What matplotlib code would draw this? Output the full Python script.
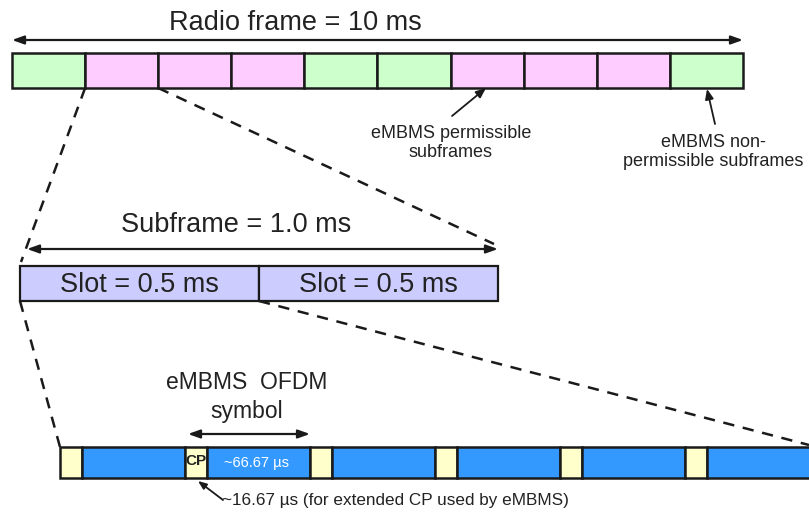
import matplotlib
matplotlib.use("Agg")
import matplotlib.pyplot as plt
from matplotlib.patches import Rectangle

# ---- data ----
frame_label = "Radio frame = 10 ms"
subframe_label = "Subframe = 1.0 ms"
slot_labels = ["Slot = 0.5 ms", "Slot = 0.5 ms"]
subframe_types = ["N", "P", "P", "P", "N", "N", "P", "P", "P", "N"]  # P = eMBMS permissible
symbol_parts = ["CP", "D", "CP", "D", "CP", "D", "CP", "D", "CP", "D", "CP", "D"]
cp_label = "CP"
data_label = "~66.67 \u00b5s"
cp_note = "~16.67 \u00b5s (for extended CP used by eMBMS)"
symbol_label = "eMBMS  OFDM\nsymbol"
perm_label = "eMBMS permissible\nsubframes"
nonperm_label = "eMBMS non-\npermissible subframes"

# ---- styles ----
GREEN = "#CCFFCC"
PINK = "#FFCCFF"
LAV = "#CCCCFF"
YEL = "#FFFFCC"
BLUE = "#3399FF"
EDGE = "#1a1a1a"
TXT = "#222222"
FONT = "Liberation Sans"
BIG = 19.5
SMALL = 13

fig = plt.figure(figsize=(8.09, 5.17), dpi=100)
ax = fig.add_axes([0, 0, 1, 1])
ax.set_xlim(0, 809)
ax.set_ylim(517, 0)
ax.axis("off")

def dbl_arrow(x0, x1, y, lw=1.6):
    ax.annotate("", xy=(x1, y), xytext=(x0, y),
                arrowprops=dict(arrowstyle="<|-|>,head_length=0.7,head_width=0.25",
                                color=EDGE, lw=lw, shrinkA=0, shrinkB=0))

def arrow(x0, y0, x1, y1):
    ax.annotate("", xy=(x1, y1), xytext=(x0, y0),
                arrowprops=dict(arrowstyle="-|>,head_length=0.6,head_width=0.25",
                                color=EDGE, lw=1.3, shrinkA=0, shrinkB=0))

# ---- radio frame ----
fx0, fx1, fy0, fy1 = 12, 743, 53, 88
sw = (fx1 - fx0) / len(subframe_types)
for i, t in enumerate(subframe_types):
    ax.add_patch(Rectangle((fx0 + i * sw, fy0), sw, fy1 - fy0,
                           facecolor=PINK if t == "P" else GREEN,
                           edgecolor=EDGE, lw=1.8, zorder=2))
dbl_arrow(fx0, fx1, 40)
ax.text(295, 23, frame_label, fontsize=BIG, family=FONT, ha="center", va="center", color=TXT)

# annotations
ax.text(451, 143, perm_label, fontsize=SMALL, family=FONT, ha="center", va="center",
        color=TXT, linespacing=1.2)
arrow(452, 116, 486, 88)
ax.text(713, 152, nonperm_label, fontsize=SMALL, family=FONT, ha="center", va="center",
        color=TXT, linespacing=1.2)
arrow(715, 124, 707, 89)

# dashed zoom lines (frame -> subframe)
dash = (0, (4.5, 3.5))
ax.plot([fx0 + sw, 21], [fy1, 262], color=EDGE, lw=1.8, ls=dash, zorder=1)
ax.plot([fx0 + 2 * sw, 494], [fy1, 244], color=EDGE, lw=1.8, ls=dash, zorder=1)

# ---- subframe / slots ----
sx0, sx1, sy0, sy1 = 20, 498, 266, 301
slw = (sx1 - sx0) / len(slot_labels)
for i, lab in enumerate(slot_labels):
    ax.add_patch(Rectangle((sx0 + i * slw, sy0), slw, sy1 - sy0,
                           facecolor=LAV, edgecolor=EDGE, lw=1.6, zorder=2))
    ax.text(sx0 + (i + 0.5) * slw, (sy0 + sy1) / 2 + 1, lab, fontsize=BIG, family=FONT,
            ha="center", va="center", color=TXT, zorder=3)
dbl_arrow(27, 498, 249)
ax.text(236, 225, subframe_label, fontsize=BIG, family=FONT, ha="center", va="center", color=TXT)

# dashed zoom lines (slot -> symbols)
ax.plot([sx0, 60], [sy1, 447], color=EDGE, lw=1.8, ls=dash, zorder=1)
ax.plot([sx0 + slw, 809], [sy1, 445], color=EDGE, lw=1.8, ls=dash, zorder=1)

# ---- OFDM symbols ----
bx, by0, by1 = 60, 447, 478
cpw, dw = 22, 103
x = bx
for k, part in enumerate(symbol_parts):
    w = cpw if part == "CP" else dw
    ax.add_patch(Rectangle((x, by0), w, by1 - by0,
                           facecolor=YEL if part == "CP" else BLUE,
                           edgecolor=EDGE, lw=1.8, zorder=2))
    if k == 2:
        ax.text(x + w / 2, 461, cp_label, fontsize=11, family=FONT,
                weight="bold", ha="center", va="center", color=TXT, zorder=3)
    if k == 3:
        ax.text(x + w / 2 - 2, (by0 + by1) / 2 + 1, data_label, fontsize=10.5, family=FONT,
                ha="center", va="center", color="white", zorder=3)
    x += w

ax.text(247, 397, symbol_label, fontsize=16.5, family=FONT, ha="center", va="center",
        color=TXT, linespacing=1.35)
dbl_arrow(188, 310, 434)

ax.text(222, 501, cp_note, fontsize=12.3, family=FONT, ha="left", va="center", color=TXT)
ax.annotate("", xy=(198, 481), xytext=(223, 500),
            arrowprops=dict(arrowstyle="-|>,head_length=0.5,head_width=0.2", color=EDGE, lw=1.3,
                            shrinkA=0, shrinkB=0))

fig.savefig("out.png", dpi=100)
